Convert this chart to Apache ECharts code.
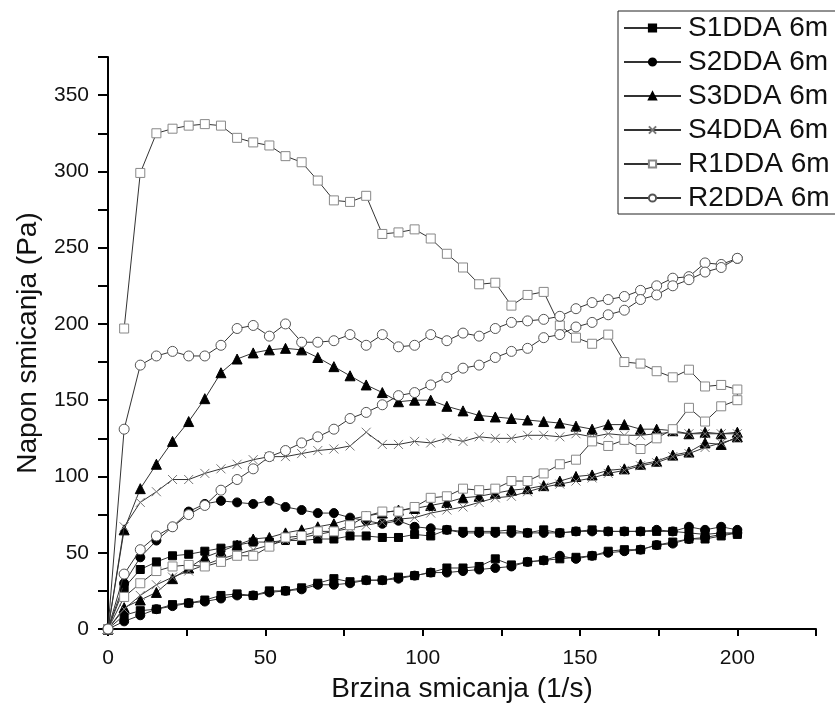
<!DOCTYPE html>
<html>
<head>
<meta charset="utf-8">
<script src="https://cdn.jsdelivr.net/npm/echarts@6/dist/echarts.min.js"></script>
<style>
html,body{margin:0;padding:0;background:#fff;}
#chart{width:835px;height:717px;}
</style>
</head>
<body>
<div id="chart"></div>
<script>
// Shear rates (1/s)
const rates = [0, 5.13, 10.26, 15.38, 20.51, 25.64, 30.77, 35.9, 41.03, 46.15, 51.28, 56.41, 61.54, 66.67, 71.79, 76.92, 82.05, 87.18, 92.31, 97.44, 102.56, 107.69, 112.82, 117.95, 123.08, 128.21, 133.33, 138.46, 143.59, 148.72, 153.85, 158.97, 164.1, 169.23, 174.36, 179.49, 184.62, 189.74, 194.87, 200];

// Shear stress (Pa), ramp up (index = rate index)
const s1Up = [0, 27, 39, 44, 48, 49, 51, 53, 55, 57, 57, 58, 58, 59, 59, 61, 61, 60, 60, 62, 61, 65, 64, 64, 64, 65, 63, 65, 63, 64, 65, 64, 64, 64, 64, 64, 63, 62, 63, 63];
const s2Up = [0, 30, 47, 58, 67, 77, 82, 84, 83, 82, 84, 80, 78, 76, 76, 73, 71, 69, 71, 67, 66, 65, 63, 63, 63, 63, 63, 63, 63, 64, 64, 64, 64, 64, 65, 64, 67, 65, 67, 65];
const s3Up = [0, 65, 92, 108, 123, 136, 151, 168, 177, 181, 183, 184, 183, 178, 172, 166, 160, 155, 149, 150, 150, 146, 143, 140, 139, 138, 137, 136, 135, 133, 131, 134, 134, 131, 131, 130, 128, 129, 128, 129];
const s4Up = [0, 67, 83, 90, 98, 98, 102, 105, 108, 111, 113, 113, 115, 117, 118, 120, 129, 121, 121, 123, 122, 125, 123, 126, 125, 125, 127, 127, 126, 128, 126, 128, 127, 127, 128, 129, 128, 128, 128, 128];
const r1Up = [null, 197, 299, 325, 328, 330, 331, 330, 322, 319, 317, 310, 306, 294, 281, 280, 284, 259, 260, 262, 256, 246, 237, 226, 227, 212, 219, 221, 199, 191, 187, 193, 175, 174, 169, 165, 170, 159, 160, 157];
const r2Up = [0, 131, 173, 179, 182, 179, 179, 186, 197, 199, 192, 200, 188, 188, 189, 193, 186, 193, 185, 186, 193, 189, 194, 192, 197, 201, 202, 203, 205, 210, 214, 216, 218, 222, 225, 230, 231, 240, 239, 243];

// Shear stress (Pa), ramp down (index = rate index, traversed from 200 back to 0)
const s1Down = [0, 9, 12, 13, 16, 17, 19, 22, 23, 22, 25, 25, 27, 30, 33, 31, 32, 32, 34, 35, 37, 40, 40, 41, 46, 42, 44, 45, 46, 47, 48, 51, 52, 52, 55, 57, 59, 59, 61, 62];
const s2Down = [0, 5, 9, 13, 15, 17, 18, 20, 22, 22, 24, 25, 26, 29, 29, 30, 32, 32, 33, 35, 37, 37, 38, 39, 40, 41, 44, 45, 48, 46, 48, 50, 51, 52, 55, 56, 59, 60, 62, 63];
const s3Down = [0, 14, 19, 24, 33, 40, 47, 51, 55, 59, 60, 63, 65, 67, 69, 72, 74, 76, 78, 79, 81, 83, 86, 87, 89, 91, 92, 94, 97, 100, 101, 104, 105, 108, 110, 114, 116, 122, 121, 126];
const s4Down = [0, 13, 22, 29, 34, 38, 42, 46, 49, 52, 55, 58, 60, 62, 64, 66, 68, 70, 72, 73, 76, 78, 80, 83, 86, 87, 90, 93, 95, 97, 99, 102, 104, 107, 109, 113, 115, 119, 122, 125];
const r1Down = [0, 21, 30, 38, 41, 42, 41, 44, 48, 48, 54, 60, 61, 64, 64, 68, 74, 77, 77, 80, 86, 87, 92, 91, 92, 97, 97, 102, 108, 111, 123, 120, 124, 118, 125, 131, 145, 136, 146, 150];
const r2Down = [0, 36, 52, 61, 67, 75, 81, 91, 98, 105, 113, 117, 122, 126, 131, 138, 142, 147, 153, 155, 160, 165, 171, 173, 178, 182, 184, 191, 193, 198, 201, 206, 209, 216, 219, 225, 229, 234, 237, 243];

const names = ['S1DDA 6m', 'S2DDA 6m', 'S3DDA 6m', 'S4DDA 6m', 'R1DDA 6m', 'R2DDA 6m'];

function loop(up, down) {
  const pts = [];
  for (let i = 0; i < rates.length; i++) {
    if (up[i] !== null) pts.push([rates[i], up[i]]);
  }
  for (let i = rates.length - 1; i >= 0; i--) {
    if (down[i] !== null) pts.push([rates[i], down[i]]);
  }
  return pts;
}

const crossPath = 'path://M0,0L10,10M10,0L0,10';
const styles = [
  {symbol: 'rect', size: 8, color: '#000', border: '#000'},
  {symbol: 'circle', size: 9, color: '#000', border: '#000'},
  {symbol: 'triangle', size: 10, color: '#000', border: '#000'},
  {symbol: crossPath, size: 9, color: 'none', border: '#777'},
  {symbol: 'rect', size: 9, color: '#fff', border: '#888'},
  {symbol: 'circle', size: 10, color: '#fff', border: '#555'}
];
const ups = [s1Up, s2Up, s3Up, s4Up, r1Up, r2Up];
const downs = [s1Down, s2Down, s3Down, s4Down, r1Down, r2Down];

const series = names.map((n, k) => ({
  name: n,
  type: 'line',
  data: loop(ups[k], downs[k]),
  symbol: styles[k].symbol,
  symbolSize: styles[k].size,
  showAllSymbol: true,
  lineStyle: {color: '#333', width: 1},
  itemStyle: {color: styles[k].color, borderColor: styles[k].border, borderWidth: 1},
  emphasis: {disabled: true},
  animation: false,
  z: 2 + k
}));

const FONT = 'Liberation Sans, Arial, sans-serif';
const chart = echarts.init(document.getElementById('chart'));
chart.setOption({
  animation: false,
  backgroundColor: '#fff',
  grid: {left: 108, right: 19, top: 57, bottom: 88, containLabel: false},
  legend: {
    data: names,
    orient: 'vertical',
    left: 618, top: 11,
    padding: [3, 20, 2, 5],
    itemGap: 6,
    itemWidth: 57,
    itemHeight: 9,
    borderColor: '#222', borderWidth: 1,
    backgroundColor: '#fff',
    textStyle: {fontFamily: FONT, fontSize: 28, color: '#111', padding: [0, 0, 0, 2]},
    selectedMode: false
  },
  xAxis: {
    type: 'value', min: 0, max: 225, interval: 25,
    name: 'Brzina smicanja (1/s)', nameLocation: 'middle', nameGap: 46,
    nameTextStyle: {fontFamily: FONT, fontSize: 28, color: '#111'},
    axisLine: {lineStyle: {color: '#000', width: 2}},
    axisTick: {inside: false, length: 7, lineStyle: {color: '#000', width: 2}},
    axisLabel: {fontFamily: FONT, fontSize: 21, color: '#111', margin: 19,
      formatter: v => (v % 50 === 0 && v <= 200) ? String(v) : ''},
    splitLine: {show: false}
  },
  yAxis: {
    type: 'value', min: 0, max: 375, interval: 25,
    name: 'Napon smicanja (Pa)', nameLocation: 'middle', nameGap: 66,
    nameTextStyle: {fontFamily: FONT, fontSize: 28, color: '#111'},
    axisLine: {lineStyle: {color: '#000', width: 2}},
    axisTick: {inside: false, length: 10, lineStyle: {color: '#000', width: 2}},
    axisLabel: {fontFamily: FONT, fontSize: 21, color: '#111', margin: 19,
      formatter: v => (v % 50 === 0 && v <= 350) ? String(v) : ''},
    splitLine: {show: false}
  },
  series: series
});
</script>
</body>
</html>
